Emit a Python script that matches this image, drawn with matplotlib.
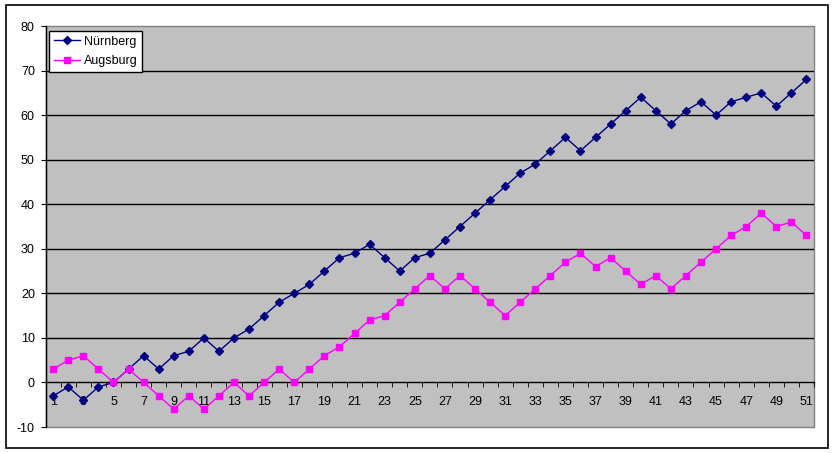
import matplotlib
matplotlib.use("Agg")
import matplotlib.pyplot as plt
from matplotlib.patches import Rectangle
import numpy as np

spieltag = list(range(1, 52))
nuernberg = [-3, -1, -4, -1, 0, 3, 6, 3, 6, 7, 10, 7, 10, 12, 15, 18, 20, 22, 25, 28,
             29, 31, 28, 25, 28, 29, 32, 35, 38, 41, 44, 47, 49, 52, 55, 52, 55, 58, 61, 64,
             61, 58, 61, 63, 60, 63, 64, 65, 62, 65, 68]
augsburg = [3, 5, 6, 3, 0, 3, 0, -3, -6, -3, -6, -3, 0, -3, 0, 3, 0, 3, 6, 8,
            11, 14, 15, 18, 21, 24, 21, 24, 21, 18, 15, 18, 21, 24, 27, 29, 26, 28, 25, 22,
            24, 21, 24, 27, 30, 33, 35, 38, 35, 36, 33]
x_labels = [str(i) for i in range(1, 52, 2)]
y_ticks = list(range(-10, 81, 10))

plt.rcParams['font.family'] = ['Liberation Sans', 'DejaVu Sans']

W, H = 836, 453
fig = plt.figure(figsize=(W / 100, H / 100), dpi=100)
fig.patch.set_facecolor('white')
fig.patches.append(Rectangle((5.5 / W, 1 - 448 / H), (827.5 - 5.5) / W, (448 - 5.3) / H,
                             transform=fig.transFigure, fill=False, edgecolor='black', lw=1.2))

ax = fig.add_axes([45.7 / W, 1 - 427 / H, (814 - 45.7) / W, (427 - 26) / H])
ax.set_facecolor('#C0C0C0')

for y in y_ticks[1:-1]:
    if y != 0:
        ax.axhline(y, color='black', lw=1, zorder=1)

ax.plot(spieltag, nuernberg, color='#000080', lw=1, marker='D', markersize=3.6,
        label='Nürnberg', zorder=3)
ax.plot(spieltag, augsburg, color='#FF00FF', lw=1, marker='s', markersize=4.6,
        label='Augsburg', zorder=3)

ax.set_xlim(0.5, 51.5)
ax.set_ylim(-10, 80)

for s in ['top', 'right']:
    ax.spines[s].set_visible(False)
ax.spines['bottom'].set_position(('data', 0))
ax.spines['bottom'].set_color('black')
ax.spines['bottom'].set_linewidth(1)
ax.spines['left'].set_color('black')
ax.spines['left'].set_linewidth(1)
ax.add_patch(Rectangle((0, 0), 1, 1, transform=ax.transAxes, fill=False,
                       edgecolor='#808080', lw=1, zorder=0.5, clip_on=False))

ax.set_xticks(list(range(1, 52, 2)))
ax.set_xticklabels(x_labels, fontsize=9)
ax.set_xticks(np.arange(0.5, 52, 1), minor=True)
ax.tick_params(axis='x', which='major', length=0, pad=10)
ax.tick_params(axis='x', which='minor', length=3.3, direction='out', color='black')
ax.set_yticks(y_ticks)
ax.set_yticklabels([str(v) for v in y_ticks], fontsize=9)
ax.tick_params(axis='y', length=3.3, direction='out', pad=4.5, color='black')

leg = ax.legend(loc='upper left', bbox_to_anchor=(3 / 768, 1 - 4.7 / 401), borderaxespad=0,
                fancybox=False, edgecolor='black', framealpha=1, fontsize=9,
                handlelength=2.1, handletextpad=0.3, labelspacing=0.6, borderpad=0.4)
leg.get_frame().set_linewidth(1)

fig.savefig('out.png', dpi=100)
